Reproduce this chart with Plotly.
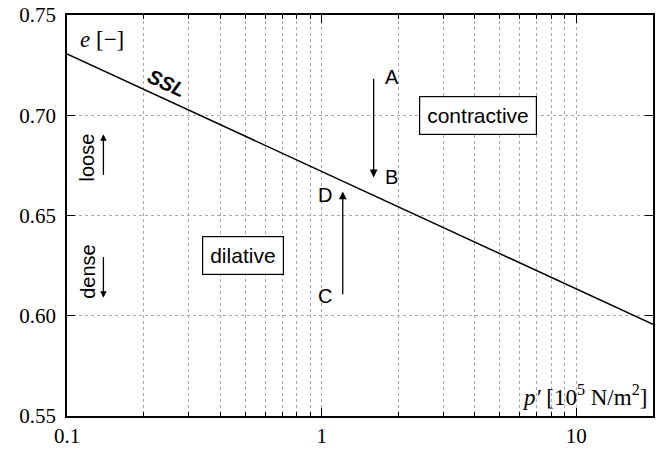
import numpy as np
import plotly.graph_objects as go

# steady state line (SSL) end points
ssl_p = [0.1, 20]
ssl_e = [0.7306, 0.5957]

# stress paths A->B and C->D
path_ab_p = [1.6, 1.6]
path_ab_e = [0.719, 0.669]
path_cd_p = [1.21, 1.21]
path_cd_e = [0.610, 0.662]

x_ticks = [0.1, 1, 10]
x_minor = [m * 10.0 ** d for d in (-1, 0, 1) for m in range(2, 10) if m * 10.0 ** d < 20]
y_ticks = [0.55, 0.60, 0.65, 0.70, 0.75]

L = np.log10

fig = go.Figure()
fig.add_trace(go.Scatter(x=ssl_p, y=ssl_e, mode="lines",
                         line=dict(color="black", width=1.5), showlegend=False))

sans = dict(family="Liberation Sans, Arial", size=20, color="black")
serif = dict(family="Liberation Serif, Times New Roman", size=23, color="black")
tickf = dict(family="Liberation Serif, Times New Roman", size=21, color="black")

ann = []
# arrows
for p, e in ((path_ab_p, path_ab_e), (path_cd_p, path_cd_e)):
    ann.append(dict(x=L(p[1]), y=e[1], ax=L(p[0]), ay=e[0], xref="x", yref="y",
                    axref="x", ayref="y", showarrow=True, arrowhead=2, arrowsize=1.2,
                    arrowwidth=1.3, arrowcolor="black", text=""))
ann += [
    dict(x=L(1.6), y=0.719, text="A", xshift=18, font=sans),
    dict(x=L(1.6), y=0.669, text="B", xshift=18, font=sans),
    dict(x=L(1.21), y=0.610, text="C", xshift=-18, font=sans),
    dict(x=L(1.21), y=0.660, text="D", xshift=-18, font=sans),
    dict(x=L(4.1), y=0.700, text="contractive", font=dict(sans, size=21),
         bordercolor="black", borderwidth=1.2, borderpad=7, bgcolor="white"),
    dict(x=L(0.49), y=0.630, text="dilative", font=dict(sans, size=21),
         bordercolor="black", borderwidth=1.2, borderpad=7, bgcolor="white"),
    dict(x=L(0.245), y=0.7115, text="<b><i>SSL</i></b>", font=dict(sans, size=20),
         textangle=24.8, yshift=9),
    dict(x=L(0.12), y=0.679, text="loose", font=sans, textangle=-90),
    dict(x=L(0.12), y=0.622, text="dense", font=sans, textangle=-90),
    dict(x=L(0.139), y=0.6905, ax=L(0.139), ay=0.6695, xref="x", yref="y", axref="x",
         ayref="y", showarrow=True, arrowhead=2, arrowwidth=1.3, arrowcolor="black", text=""),
    dict(x=L(0.139), y=0.609, ax=L(0.139), ay=0.630, xref="x", yref="y", axref="x",
         ayref="y", showarrow=True, arrowhead=2, arrowwidth=1.3, arrowcolor="black", text=""),
    dict(xref="paper", yref="paper", x=0.018, y=0.938, xanchor="left", yanchor="middle",
         text="<i>e</i> [−]", font=serif, showarrow=False),
    dict(xref="paper", yref="paper", x=0.993, y=0.05, xanchor="right", yanchor="middle",
         text="<i>p′</i> [10<sup>5</sup> N/m<sup>2</sup>]", font=serif, showarrow=False),
]
for a in ann:
    a.setdefault("showarrow", False)
    a.setdefault("xref", "x")
    a.setdefault("yref", "y")

grid = dict(showgrid=True, gridcolor="#aaaaaa", griddash="dot", gridwidth=1)

fig.update_layout(
    width=658, height=452,
    margin=dict(l=67, r=3, t=13, b=36),
    plot_bgcolor="white", paper_bgcolor="white",
    annotations=ann,
    font=dict(family="Liberation Serif, Times New Roman", size=17, color="black"),
    xaxis=dict(type="log", range=[L(0.1), L(20)], tickvals=x_ticks,
               ticktext=["0.1", "1", "10"], tickfont=tickf,
               ticks="inside", ticklen=8, tickcolor="black",
               showline=True, linecolor="black", linewidth=1.5, mirror="ticks",
               zeroline=False, **grid,
               minor=dict(tickvals=x_minor, ticks="inside", ticklen=4, tickcolor="black",
                          **grid)),
    yaxis=dict(range=[0.55, 0.75], tickvals=y_ticks, ticktext=[f"{v:.2f}" for v in y_ticks],
               tickfont=tickf, ticks="inside", ticklen=8, tickcolor="black",
               ticklabelstandoff=5,
               showline=True, linecolor="black", linewidth=1.5, mirror="ticks",
               zeroline=False, **grid),
)

fig.write_html("out.html", config={"displayModeBar": False},
               post_script="document.body.style.margin='0';")
